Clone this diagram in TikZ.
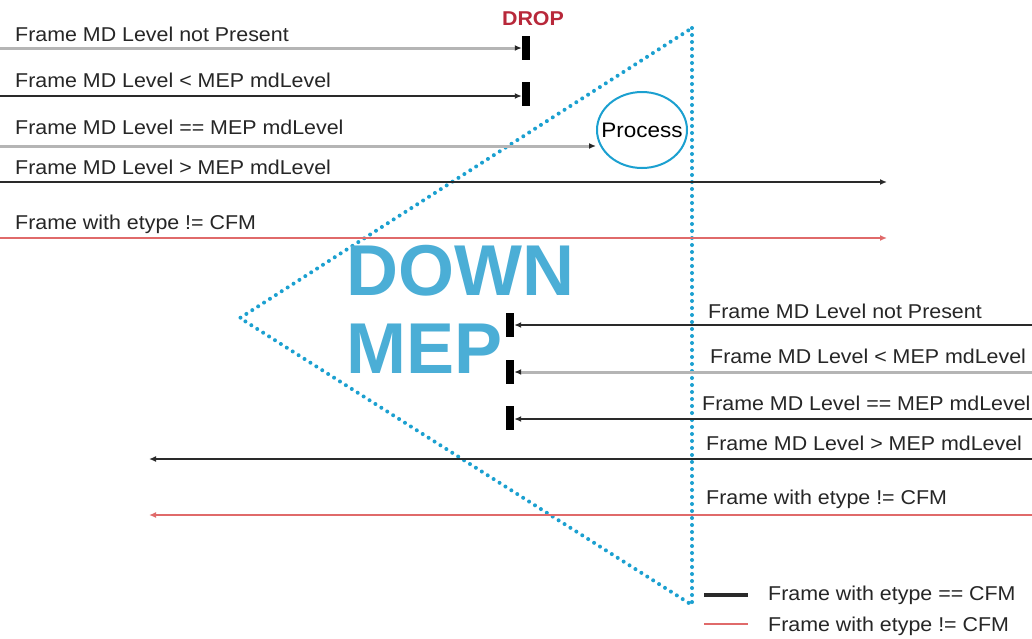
\documentclass[tikz,border=0pt]{standalone}
\usepackage{fontspec}
\setmainfont{Liberation Sans}
\newfontfamily\wide[FakeStretch=1.07]{Liberation Sans}
\usetikzlibrary{arrows.meta,shapes.geometric}
\definecolor{mepblue}{HTML}{4BAED6}
\definecolor{dotblue}{HTML}{1BA0D0}
\definecolor{dropred}{HTML}{B8283A}
\definecolor{linered}{HTML}{E06A6A}
\definecolor{lightline}{HTML}{B5B5B5}
\definecolor{darkline}{HTML}{2A2A2A}
\begin{document}
\begin{tikzpicture}[x=1pt,y=-1pt,
  lbl/.style={anchor=base west,inner sep=0pt,font=\wide\fontsize{20}{24}\selectfont,text=black!85},
  bar/.style={fill=black,minimum width=8pt,minimum height=24pt,inner sep=0pt},
  arr/.style={-{Latex[length=7pt,width=6pt]},line width=2pt},
  grayarr/.style={arr,draw=lightline,-{Latex[length=7pt,width=6pt,color=black!85]},line width=3pt},
  blackarr/.style={arr,draw=darkline},
  redarr/.style={arr,draw=linered,line width=1.8pt},
  dots/.style={draw=dotblue,line width=4pt,line cap=round,dash pattern=on 0pt off 7pt}
]
\useasboundingbox[fill=white] (0,0) rectangle (1032,638);
% triangle
\coordinate (tt) at (692,28);
\coordinate (tb) at (692,605);
\coordinate (tl) at (240,318);
\draw[dots] (tt) -- (tb) -- (tl) -- cycle;
% DOWN MEP
\node[anchor=base west,inner sep=0pt,text=mepblue,font=\fontsize{72}{72}\bfseries\selectfont] (down) at (346,295) {DOWN};
\node[anchor=base west,inner sep=0pt,text=mepblue,font=\fontsize{72}{72}\bfseries\selectfont] (mep) at (346,373) {MEP};
% DROP
\node[anchor=base,inner sep=0pt,text=dropred,font=\wide\fontsize{20}{24}\bfseries\selectfont] (drop) at (533,25) {DROP};
% top flows
\node[lbl] (t1) at (15,41) {Frame MD Level not Present};
\node[lbl] (t2) at (15,87) {Frame MD Level < MEP mdLevel};
\node[lbl] (t3) at (15,134) {Frame MD Level == MEP mdLevel};
\node[lbl] (t4) at (15,174) {Frame MD Level > MEP mdLevel};
\node[lbl] (t5) at (15,229) {Frame with etype != CFM};
\node[bar] (b1) at (526,48) {};
\node[bar] (b2) at (526,94) {};
\node[draw=dotblue,line width=2pt,ellipse,minimum width=90pt,minimum height=76pt,inner xsep=-12pt,inner ysep=0pt,font=\wide\fontsize{21}{24}\selectfont] (proc) at (642,130) {Process};
\coordinate (s1) at (0,48);
\coordinate (s2) at (0,96);
\coordinate (s3) at (0,146);
\coordinate (s4) at (0,182);
\coordinate (e4) at (887,182);
\coordinate (s5) at (0,238);
\coordinate (e5) at (887,238);
\draw[grayarr] (s1) -- (s1 -| b1.west);
\draw[blackarr] (s2) -- (s2 -| b2.west);
\draw[grayarr] (s3) -- (s3 -| proc.west);
\draw[blackarr] (s4) -- (e4);
\draw[redarr] (s5) -- (e5);
% bottom flows
\node[lbl] (u1) at (708,318) {Frame MD Level not Present};
\node[lbl] (u2) at (710,363) {Frame MD Level < MEP mdLevel};
\node[lbl] (u3) at (702,410) {Frame MD Level == MEP mdLevel};
\node[lbl] (u4) at (706,450) {Frame MD Level > MEP mdLevel};
\node[lbl] (u5) at (706,504) {Frame with etype != CFM};
\node[bar] (c1) at (510,325) {};
\node[bar] (c2) at (510,372) {};
\node[bar] (c3) at (510,418) {};
\coordinate (r1) at (1032,325);
\coordinate (r2) at (1032,372);
\coordinate (r3) at (1032,419);
\coordinate (r4) at (1032,459);
\coordinate (f4) at (149,459);
\coordinate (r5) at (1032,515);
\coordinate (f5) at (149,515);
\draw[blackarr] (r1) -- (r1 -| c1.east);
\draw[grayarr] (r2) -- (r2 -| c2.east);
\draw[blackarr] (r3) -- (r3 -| c3.east);
\draw[blackarr] (r4) -- (f4);
\draw[redarr] (r5) -- (f5);
% legend
\coordinate (la) at (704,595);
\coordinate (lb) at (748,595);
\coordinate (lc) at (704,624);
\coordinate (ld) at (748,624);
\draw[draw=darkline,line width=3.5pt] (la) -- (lb);
\draw[draw=linered,line width=2pt] (lc) -- (ld);
\node[lbl] (l1) at (768,600) {Frame with etype == CFM};
\node[lbl] (l2) at (768,631) {Frame with etype != CFM};
\end{tikzpicture}
\end{document}
